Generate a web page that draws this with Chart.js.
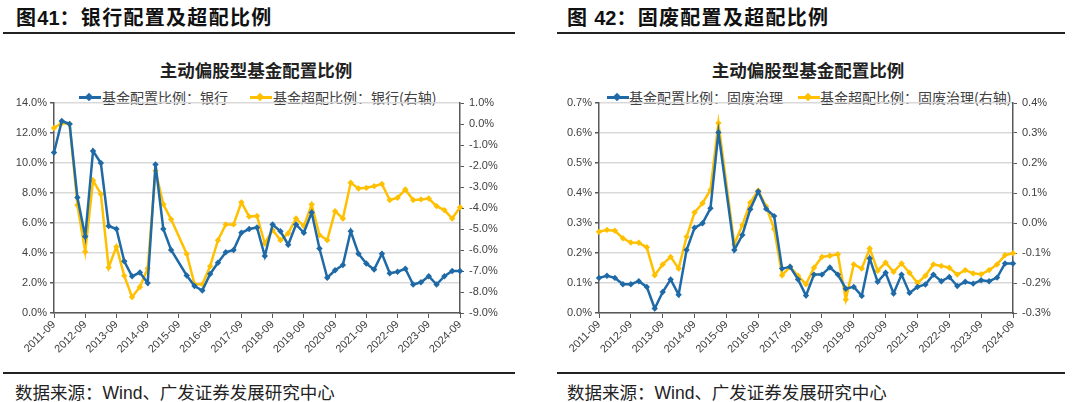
<!DOCTYPE html>
<html>
<head>
<meta charset="utf-8">
<script src="https://cdn.jsdelivr.net/npm/chart.js@4.4.1/dist/chart.umd.min.js"></script>
<style>
  body { margin: 0; background: #fff; width: 1080px; height: 402px; position: relative; overflow: hidden; font-family: "Noto Sans CJK SC", sans-serif; }
  .head { position: absolute; top: 3px; font-size: 20px; line-height: 28px; font-weight: bold; color: #111; white-space: nowrap; letter-spacing: 1.3px; }
  .head b { font-family: "Liberation Sans", Arial, sans-serif; letter-spacing: 0; }
  .rule { position: absolute; height: 2px; background: #222; }
  .src { position: absolute; top: 380px; font-size: 17.5px; line-height: 24px; color: #222; white-space: nowrap; }
  .src span { font-family: "Liberation Sans", Arial, sans-serif; }
  .ctitle { position: absolute; top: 58px; width: 300px; text-align: center; font-size: 17.5px; line-height: 24px; font-weight: bold; color: #222; }
  .leg { position: absolute; top: 88px; font-size: 14px; line-height: 18px; color: #404040; white-space: nowrap; }
  .mk { position: absolute; top: 96px; width: 22px; height: 3px; }
  .mk i { position: absolute; left: 7px; top: -2.5px; width: 6px; height: 6px; transform: rotate(45deg); background: inherit; }
  .box { position: absolute; top: 45px; width: 540px; height: 318px; }
</style>
</head>
<body>
<div class="head" style="left:16px">图<b>41</b>：银行配置及超配比例</div>
<div class="rule" style="left:3px;width:512px;top:32px"></div>
<div class="rule" style="left:3px;width:512px;top:372px"></div>
<div class="src" style="left:15px">数据来源：<span>Wind</span>、广发证券发展研究中心</div>

<div class="head" style="left:567px">图 <b>42</b>：固废配置及超配比例</div>
<div class="rule" style="left:557px;width:508px;top:32px"></div>
<div class="rule" style="left:557px;width:508px;top:372px"></div>
<div class="src" style="left:567px">数据来源：<span>Wind</span>、广发证券发展研究中心</div>

<div class="ctitle" style="left:106px">主动偏股型基金配置比例</div>
<div class="mk" style="left:79px;background:#1f6aa6"><i></i></div>
<div class="leg" style="left:102px">基金配置比例：银行</div>
<div class="mk" style="left:250px;background:#ffc000"><i></i></div>
<div class="leg" style="left:273px">基金超配比例：银行(右轴)</div>

<div class="ctitle" style="left:658px">主动偏股型基金配置比例</div>
<div class="mk" style="left:607px;background:#1f6aa6"><i></i></div>
<div class="leg" style="left:629px">基金配置比例：固废治理</div>
<div class="mk" style="left:798px;background:#ffc000"><i></i></div>
<div class="leg" style="left:820px">基金超配比例：固废治理(右轴)</div>

<div class="box" style="left:0"><canvas id="bankChart"></canvas></div>
<div class="box" style="left:540px"><canvas id="wasteChart"></canvas></div>

<script>
// quarterly, 2011-09 .. 2024-09 (2015-12 has no value in the source)
const quarters = []
for (let y = 2011; y <= 2024; y++) {
  for (const m of ["03", "06", "09", "12"]) {
    if ((y === 2011 && m < "09") || (y === 2024 && m > "09")) continue
    quarters.push(y + "-" + m)
  }
}

const bankAlloc = [10.7, 12.8, 12.6, 7.7, 5.1, 10.8, 10.0, 5.8, 5.6, 3.45, 2.45, 2.7, 2.0, 9.9, 5.6, 4.2, null,
  2.5, 1.8, 1.5, 2.6, 3.35, 4.05, 4.2, 5.35, 5.6, 5.7, 3.8, 5.9, 5.45, 4.55, 5.9, 5.35, 6.7, 4.3, 2.35,
  2.85, 3.2, 5.45, 3.95, 3.3, 2.9, 3.95, 2.65, 2.75, 2.95, 1.9, 2.05, 2.45, 1.9, 2.45, 2.8, 2.8]
const bankOver = [-0.19, 0.05, 0.0, -3.86, -6.08, -2.69, -3.33, -6.83, -5.84, -7.23, -8.24, -7.76, -6.88, -2.23, -3.82, -4.54, null,
  -6.19, -7.63, -7.63, -6.77, -5.53, -4.78, -4.78, -3.73, -4.41, -4.38, -5.69, -5.05, -5.53, -5.2, -4.5, -4.86, -3.83, -5.29, -5.53,
  -4.15, -4.5, -2.8, -3.07, -3.04, -2.96, -2.86, -3.62, -3.51, -3.12, -3.62, -3.59, -3.55, -3.91, -4.1, -4.5, -3.97]

const wasteAlloc = [0.117, 0.124, 0.117, 0.096, 0.096, 0.106, 0.087, 0.015, 0.07, 0.112, 0.061, 0.21, 0.284, 0.299, 0.349, 0.602, null,
  0.21, 0.26, 0.346, 0.405, 0.347, 0.323, 0.148, 0.154, 0.112, 0.058, 0.128, 0.128, 0.152, 0.128, 0.081, 0.087, 0.057, 0.182, 0.104,
  0.134, 0.065, 0.128, 0.067, 0.087, 0.095, 0.128, 0.106, 0.12, 0.09, 0.104, 0.098, 0.109, 0.106, 0.118, 0.165, 0.165]
const wasteOver = [-0.029, -0.023, -0.026, -0.051, -0.065, -0.066, -0.081, -0.174, -0.138, -0.113, -0.152, -0.046, 0.035, 0.066, 0.11, 0.333, null,
  -0.071, -0.007, 0.068, 0.108, 0.055, -0.02, -0.174, -0.146, -0.176, -0.204, -0.149, -0.113, -0.109, -0.104, -0.255, -0.138, -0.152, -0.085, -0.159,
  -0.132, -0.163, -0.135, -0.166, -0.2, -0.176, -0.138, -0.143, -0.149, -0.172, -0.157, -0.168, -0.171, -0.157, -0.138, -0.107, -0.101]

const BLUE = "#1f6aa6"
const GOLD = "#ffc000"
const AXIS = "#595959"
const TXT = "#404040"

function series(label, data, color, axis) {
  return {
    label: label,
    data: data,
    yAxisID: axis,
    borderColor: color,
    backgroundColor: color,
    borderWidth: 2.5,
    pointStyle: "rectRot",
    pointRadius: 3.2,
    pointBorderWidth: 0,
    pointBackgroundColor: color,
    tension: 0,
    spanGaps: true,
  }
}

function makeChart(id, labels, leftSet, rightSet, left, right, leftW, rightW) {
  const ctx = document.getElementById(id).getContext("2d")
  const tickFont = { family: "'Liberation Sans', Arial, sans-serif", size: 11 }
  return new Chart(ctx, {
    type: "line",
    data: { labels: labels, datasets: [leftSet, rightSet] },
    options: {
      responsive: true,
      maintainAspectRatio: false,
      animation: false,
      layout: { padding: { left: 0, right: 0, top: 58, bottom: 0 } },
      plugins: {
        legend: { display: false },
        tooltip: { enabled: false },
      },
      scales: {
        x: {
          offset: false,
          grid: {
            drawOnChartArea: false,
            tickLength: 5,
            tickColor: (c) => (c.index % 4 === 0 ? AXIS : "transparent"),
          },
          border: { color: AXIS, width: 1.5 },
          ticks: {
            autoSkip: false,
            maxRotation: 45,
            minRotation: 45,
            color: TXT,
            font: tickFont,
            padding: 0,
            callback: function (v, i) { return i % 4 === 0 ? labels[i] : "" },
          },
          afterFit: (s) => { s.height = 50 },
        },
        yL: {
          position: "left",
          min: left.min,
          max: left.max,
          grid: { color: "#d9d9d9", lineWidth: 1.5, tickLength: 4, tickColor: AXIS },
          border: { color: AXIS, width: 1.5 },
          ticks: {
            stepSize: left.step,
            color: TXT,
            font: tickFont,
            padding: 3,
            callback: (v) => v.toFixed(1) + "%",
          },
          afterFit: (s) => { s.width = leftW },
        },
        yR: {
          position: "right",
          min: right.min,
          max: right.max,
          grid: { drawOnChartArea: false, tickLength: 4, tickColor: AXIS },
          border: { color: AXIS, width: 1.5 },
          ticks: {
            stepSize: right.step,
            color: TXT,
            font: tickFont,
            padding: 5,
            callback: (v) => v.toFixed(1) + "%",
          },
          afterFit: (s) => { s.width = rightW },
        },
      },
    },
  })
}

makeChart("bankChart", quarters,
  series("基金配置比例：银行", bankAlloc, BLUE, "yL"),
  series("基金超配比例：银行(右轴)", bankOver, GOLD, "yR"),
  { min: 0, max: 14, step: 2 }, { min: -9, max: 1, step: 1 }, 54, 80)

makeChart("wasteChart", quarters,
  series("基金配置比例：固废治理", wasteAlloc, BLUE, "yL"),
  series("基金超配比例：固废治理(右轴)", wasteOver, GOLD, "yR"),
  { min: 0, max: 0.7, step: 0.1 }, { min: -0.3, max: 0.4, step: 0.1 }, 59, 67)
</script>
</body>
</html>
